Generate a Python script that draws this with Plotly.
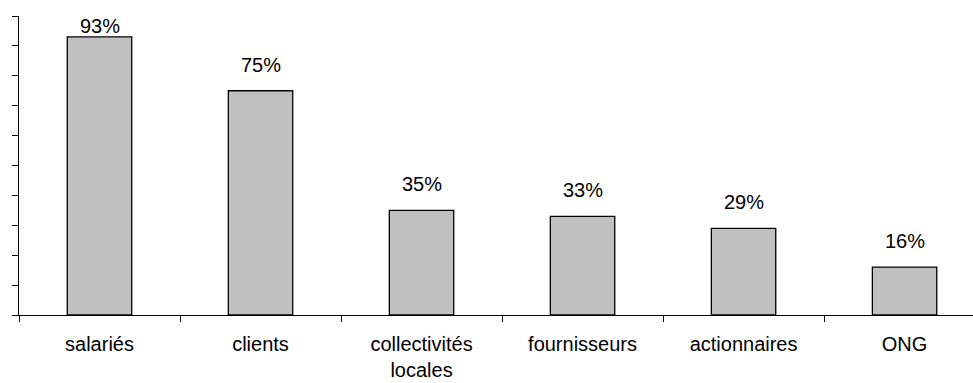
import plotly.graph_objects as go

# Stakeholder shares (fraction of respondents)
categories = ["salariés", "clients", "collectivités<br>locales", "fournisseurs", "actionnaires", "ONG"]
values = [0.93, 0.75, 0.35, 0.33, 0.29, 0.16]
value_labels = ["93%", "75%", "35%", "33%", "29%", "16%"]

FONT = "Liberation Sans, Arial, sans-serif"

fig = go.Figure(
    go.Bar(
        x=categories,
        y=values,
        width=0.4,
        marker=dict(color="#C0C0C0", line=dict(color="#000000", width=1.3)),
        hoverinfo="skip",
    )
)

# Value labels sit a fixed distance above each bar, kept inside the plot top
for cat, v, lab in zip(categories, values, value_labels):
    fig.add_annotation(
        x=cat,
        y=min(v + 0.087, 0.965),
        text=lab,
        showarrow=False,
        xanchor="center",
        yanchor="middle",
        font=dict(family=FONT, size=20, color="#000000"),
    )

fig.update_layout(
    width=973,
    height=383,
    margin=dict(l=19, r=0, t=16, b=68),
    paper_bgcolor="white",
    plot_bgcolor="white",
    showlegend=False,
    font=dict(family=FONT, size=20, color="#000000"),
    xaxis=dict(
        type="category",
        range=[-0.5, 5.425],
        showline=True,
        linecolor="#000000",
        linewidth=1.3,
        ticks="outside",
        tickson="boundaries",
        ticklen=6,
        tickwidth=1.3,
        tickcolor="#000000",
        showgrid=False,
        ticklabelstandoff=11,
        tickfont=dict(family=FONT, size=20, color="#000000"),
    ),
    yaxis=dict(
        range=[0, 1],
        dtick=0.1,
        tick0=0,
        showline=True,
        linecolor="#000000",
        linewidth=1.3,
        ticks="outside",
        ticklen=6,
        tickwidth=1.3,
        tickcolor="#000000",
        showticklabels=False,
        showgrid=False,
        zeroline=False,
    ),
)

fig.write_html("out.html")
